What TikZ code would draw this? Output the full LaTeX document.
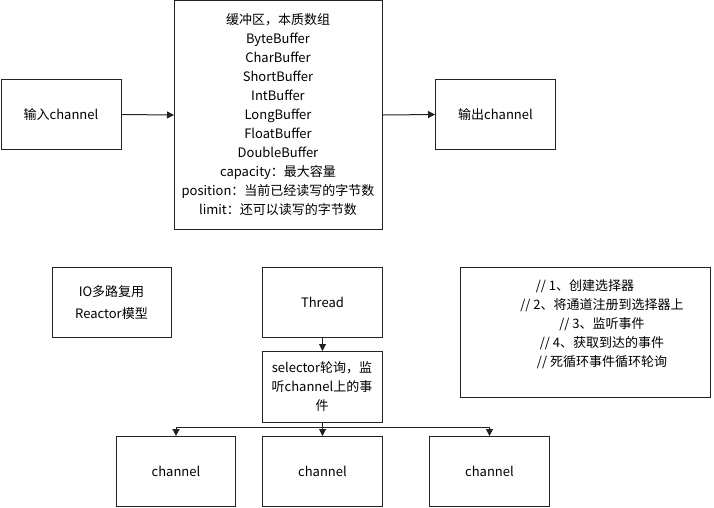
\documentclass[tikz,border=0pt]{standalone}
\usepackage{fontspec}
\setmainfont{Noto Sans CJK SC}
\usetikzlibrary{arrows.meta}
\definecolor{ln}{HTML}{222222}
\tikzset{
  box/.style={draw=ln, line width=1pt, minimum width=#1, inner sep=0pt},
  box/.default=120pt,
  txt/.style={font=\fontsize{13pt}{19pt}\selectfont, align=center, text=black},
  arr/.style={draw=ln, line width=1pt, -{Triangle[length=7pt,width=7pt]}},
  ln/.style={draw=ln, line width=1pt}
}
\begin{document}
\begin{tikzpicture}[x=1pt,y=-1pt]
\useasboundingbox[fill=white] (0,0) rectangle (714,507);
% top row
\node[box, minimum height=70pt, anchor=north west] (in) at (0.5,79) {};
\node[txt] (intxt) at (in.center) {输入channel};
\node[box=208pt, minimum height=229pt, anchor=north west] (buf) at (174,0) {};
\node[txt] (buftxt) at (278,115) {缓冲区，本质数组\\ByteBuffer\\CharBuffer\\ShortBuffer\\IntBuffer\\LongBuffer\\FloatBuffer\\DoubleBuffer\\capacity：最大容量\\position：当前已经读写的字节数\\limit：还可以读写的字节数};
\node[box, minimum height=70pt, anchor=north west] (out) at (435,79) {};
\node[txt] (outtxt) at (out.center) {输出channel};
\draw[arr] (in.east) -- (buf.west);
\draw[arr] (buf.east) -- (out.west);
% bottom
\node[box=119pt, minimum height=70pt, anchor=north west] (io) at (52,267) {};
\node[txt, font=\fontsize{13pt}{22pt}\selectfont] (iotxt) at (111.5,303) {IO多路复用\\Reactor模型};
\node[box, minimum height=70pt, anchor=north west] (th) at (262,267) {};
\node[txt] (thtxt) at (th.center) {Thread};
\node[box, minimum height=71pt, anchor=north west] (sel) at (262,351) {};
\node[txt] (seltxt) at (322,387) {selector轮询，监\\听channel上的事\\件};
\node[box=119pt, minimum height=70pt, anchor=north west] (c1) at (116,436) {};
\node[txt] (c1t) at (c1.center) {channel};
\node[box, minimum height=70pt, anchor=north west] (c2) at (262,436) {};
\node[txt] (c2t) at (c2.center) {channel};
\node[box, minimum height=70pt, anchor=north west] (c3) at (429,436) {};
\node[txt] (c3t) at (c3.center) {channel};
\node[box=250pt, minimum height=130pt, anchor=north west] (note) at (460,267) {};
\node[txt] (notetxt) at (585,324.5) {// 1、创建选择器\\\hspace*{34pt}// 2、将通道注册到选择器上\\\hspace*{34pt}// 3、监听事件\\\hspace*{34pt}// 4、获取到达的事件\\\hspace*{34pt}// 死循环事件循环轮询};
\draw[arr] (th.south) -- (sel.north);
\draw[arr] (sel.south) -- (c2.north);
\coordinate (bus) at (322,427);
\draw[arr] (bus) -| (c1.north);
\draw[arr] (bus) -| (c3.north);
\end{tikzpicture}
\end{document}
